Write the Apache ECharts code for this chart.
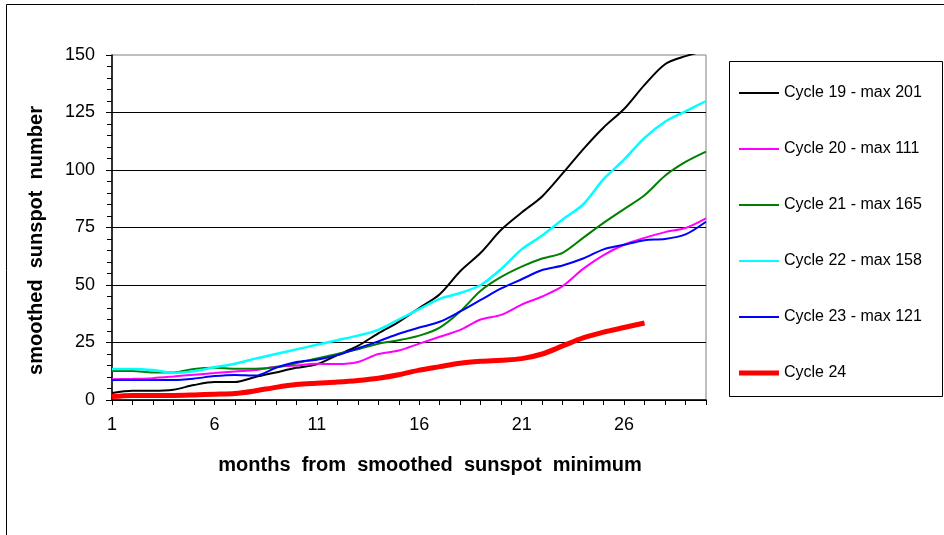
<!DOCTYPE html>
<html>
<head>
<meta charset="utf-8">
<script src="https://cdn.jsdelivr.net/npm/echarts@6/dist/echarts.min.js"></script>
<style>
  html, body { margin: 0; padding: 0; background: #fff; }
  #main { width: 944px; height: 535px; }
</style>
</head>
<body>
<div id="main"></div>
<script>
// months 1..30
var months = [];
for (var m = 1; m <= 30; m++) months.push(String(m));

var cycleNames = [
  'Cycle 19 - max 201',
  'Cycle 20 - max 111',
  'Cycle 21 - max 165',
  'Cycle 22 - max 158',
  'Cycle 23 - max 121',
  'Cycle 24'
];

var cycle19 = [3, 4, 4, 4.5, 6.5, 7.8, 7.8, 10, 12, 14, 15.5, 19.5, 23.5, 29, 34, 40, 46, 56, 64, 74,
  81.5, 88.5, 98.5, 109, 118.5, 126.5, 137, 146, 149.5, 152];
var cycle20 = [9, 9.2, 9.5, 10.2, 11, 11.7, 12.4, 13, 14.5, 15, 15.8, 15.6, 16.5, 20, 21.5, 24.5, 27.5, 30.5, 35, 37,
  41.5, 45, 49.5, 57, 63, 67.5, 70.5, 73, 74.8, 79];
var cycle21 = [12.6, 12.6, 12, 12, 13.5, 14, 13.6, 13.6, 14.2, 16, 18, 20, 22, 24.5, 26, 28, 31.5, 38.5, 47.5, 53.5,
  58, 61.5, 64, 70.5, 77, 83, 89, 97.5, 103.5, 108];
var cycle22 = [13.5, 13.5, 13, 11.8, 12.5, 14.2, 15.8, 18, 20, 22, 24, 26, 28, 30.5, 35, 39.5, 44, 46.5, 50, 57,
  65.5, 71.5, 78.5, 85, 96, 104.5, 114, 121, 125.5, 130];
var cycle23 = [8.7, 8.7, 8.7, 8.7, 9.3, 10.4, 10.9, 10.6, 14, 16.5, 17.5, 19.5, 22.5, 25.5, 28.8, 31.5, 34, 38.5, 43.5, 48.5,
  52.5, 56.5, 58.5, 61.5, 65.5, 67.5, 69.5, 70, 72, 77.5];
var cycle24 = [1.5, 2, 2, 2, 2.2, 2.5, 2.8, 4, 5.5, 6.7, 7.3, 7.8, 8.5, 9.5, 11, 13, 14.5, 16, 16.8, 17.3,
  18, 20, 23.5, 27, 29.5, 31.5, 33.5];

var allData = [cycle19, cycle20, cycle21, cycle22, cycle23, cycle24];
var colors = ['#000000', '#ff00ff', '#008000', '#00ffff', '#0000ff', '#ff0000'];
var widths = [2, 2, 2, 2.5, 2, 5];

var font = 'Liberation Sans, Arial, sans-serif';

var series = allData.map(function (d, i) {
  return {
    name: cycleNames[i],
    type: 'line',
    data: d,
    symbol: 'none',
    smooth: 0.3,
    clip: true,
    z: i === 5 ? 5 : 3,
    lineStyle: { color: colors[i], width: widths[i] },
    itemStyle: { color: colors[i] }
  };
});

var myChart = echarts.init(document.getElementById('main'));
var option = {
  backgroundColor: '#fff',
  animation: false,
  grid: {
    left: 112,
    right: 238,
    top: 55,
    bottom: 135,
    show: true,
    borderColor: '#808080',
    borderWidth: 1
  },
  legend: {
    orient: 'vertical',
    left: 734,
    top: 80,
    itemWidth: 40,
    itemHeight: 14,
    itemGap: 40,
    symbolKeepAspect: true,
    textStyle: { fontFamily: font, fontSize: 16, color: '#000' },
    data: cycleNames.map(function (n, i) {
      var h = i === 5 ? 5 : 2;
      return {
        name: n,
        icon: 'path://M0,0h40v' + h + 'h-40z',
        itemStyle: { color: colors[i], borderWidth: 0 }
      };
    })
  },
  xAxis: {
    type: 'category',
    data: months,
    boundaryGap: false,
    name: 'months  from  smoothed  sunspot  minimum',
    nameLocation: 'middle',
    nameGap: 55,
    nameTextStyle: { fontFamily: font, fontSize: 20, fontWeight: 'bold', color: '#000', padding: [0, 0, 0, 42] },
    axisLine: { lineStyle: { color: '#000', width: 1.5 } },
    axisTick: { interval: 0, length: 5, inside: false, lineStyle: { color: '#000' } },
    axisLabel: { interval: 4, margin: 16, fontFamily: font, fontSize: 18, color: '#000' },
    splitLine: { show: false }
  },
  yAxis: {
    type: 'value',
    min: 0,
    max: 150,
    interval: 25,
    name: 'smoothed  sunspot  number',
    nameLocation: 'middle',
    nameGap: 66,
    nameTextStyle: { fontFamily: font, fontSize: 20, fontWeight: 'bold', color: '#000', padding: [0, 26, 0, 0] },
    axisLine: { show: true, lineStyle: { color: '#000', width: 1.5 } },
    axisTick: { show: true, length: 6, lineStyle: { color: '#000' } },
    minorTick: { show: true, splitNumber: 5, length: 5, lineStyle: { color: '#000' } },
    axisLabel: { margin: 17, fontFamily: font, fontSize: 18, color: '#000' },
    splitLine: { show: true, showMaxLine: false, lineStyle: { color: '#000', width: 1 } }
  },
  graphic: [
    {
      type: 'rect',
      shape: { x: 6.5, y: 4.5, width: 960, height: 560 },
      style: { fill: null, stroke: '#000', lineWidth: 1 },
      silent: true
    },
    {
      type: 'rect',
      shape: { x: 729.5, y: 61.5, width: 213, height: 335 },
      style: { fill: null, stroke: '#000', lineWidth: 1 },
      silent: true
    }
  ],
  series: series
};
myChart.setOption(option);
</script>
</body>
</html>
